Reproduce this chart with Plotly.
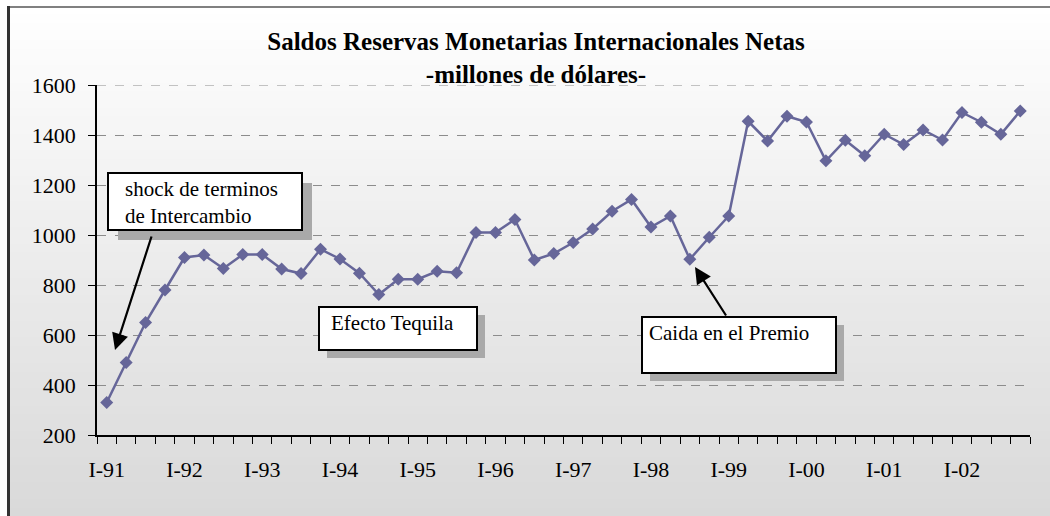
import plotly.graph_objects as go

# quarterly balances, I-91 .. IV-02
quarters = list(range(48))
reserves = [
    330, 490, 650, 780, 910, 920, 866, 922, 922, 864, 846, 943,
    904, 847, 762, 823, 823, 855, 849, 1010, 1010, 1062, 900, 926,
    970, 1024, 1095, 1142, 1032, 1076, 903, 991, 1076, 1455, 1376, 1475,
    1452, 1297, 1379, 1317, 1403, 1362, 1420, 1380, 1490, 1451, 1403, 1496,
]
year_labels = ["I-91", "I-92", "I-93", "I-94", "I-95", "I-96",
               "I-97", "I-98", "I-99", "I-00", "I-01", "I-02"]
year_pos = [4 * i for i in range(len(year_labels))]

W, H = 1050, 516
L, R, T, B = 97, 1030, 85, 435
SERIF = "Liberation Serif, Times New Roman, serif"


def px(x):
    return (x - L) / (R - L)


def py(y):
    return (B - y) / (B - T)


shapes = []
# background gradient inside the chart frame
n_strips = 60
for k in range(n_strips):
    y0 = 6 + k * (H - 6) / n_strips
    y1 = 6 + (k + 1) * (H - 6) / n_strips + 1
    v = int(round(255 - ((y0 + y1) / 2 - 6) / (H - 6) * 38))
    shapes.append(dict(type="rect", xref="paper", yref="paper", layer="below",
                       x0=px(8), x1=px(W + 2), y0=py(y1), y1=py(y0),
                       fillcolor=f"rgb({v},{v},{v})", line_width=0))
# frame
shapes.append(dict(type="line", xref="paper", yref="paper", x0=px(8), x1=px(W + 2),
                   y0=py(7), y1=py(7), line=dict(color="#808080", width=2)))
shapes.append(dict(type="line", xref="paper", yref="paper", x0=px(8.5), x1=px(8.5),
                   y0=py(6), y1=py(H + 2), line=dict(color="#333333", width=3)))
# top gridline at the range edge
shapes.append(dict(type="line", xref="paper", yref="y", x0=0, x1=1, y0=1600, y1=1600,
                   layer="below", line=dict(color="#8c8c8c", width=1, dash="dash")))

# annotation boxes: (x0, y0, x1, y1, shadow offset)
boxes = [(108, 173, 302, 230, 10), (319, 307, 477, 350, 8), (642, 317, 836, 373, 8)]
for x0, y0, x1, y1, off in boxes:
    shapes.append(dict(type="rect", xref="paper", yref="paper",
                       x0=px(x0 + off), x1=px(x1 + off), y0=py(y1 + off), y1=py(y0 + off),
                       fillcolor="#a9a9a9", line_width=0))
    shapes.append(dict(type="rect", xref="paper", yref="paper",
                       x0=px(x0), x1=px(x1), y0=py(y1), y1=py(y0),
                       fillcolor="white", line=dict(color="black", width=2)))

fig = go.Figure()
fig.add_trace(go.Scatter(
    x=quarters, y=reserves, mode="lines+markers",
    line=dict(color="#666699", width=2.5),
    marker=dict(symbol="diamond", size=10, color="#666699"),
    showlegend=False, hoverinfo="y",
))

box_font = dict(family=SERIF, size=21, color="black")
annotations = [
    dict(xref="paper", yref="paper", x=px(123), y=py(175), xanchor="left", yanchor="top",
         text="shock de terminos<br>de Intercambio", showarrow=False, align="left",
         font=box_font),
    dict(xref="paper", yref="paper", x=px(329), y=py(323), xanchor="left", yanchor="middle",
         text="Efecto Tequila", showarrow=False, font=box_font),
    dict(xref="paper", yref="paper", x=px(647), y=py(333), xanchor="left", yanchor="middle",
         text="Caida en el Premio", showarrow=False, font=box_font),
    # arrows
    dict(xref="paper", yref="paper", x=px(115), y=py(350), ax=37, ay=-115, text="",
         showarrow=True, arrowhead=2, arrowsize=1.5, arrowwidth=2.2, arrowcolor="black",
         standoff=0, startstandoff=0),
    dict(xref="paper", yref="paper", x=px(695), y=py(267), ax=32, ay=50, text="",
         showarrow=True, arrowhead=2, arrowsize=1.5, arrowwidth=2.2, arrowcolor="black",
         standoff=0, startstandoff=0),
]

fig.update_layout(
    width=W, height=H,
    margin=dict(l=L, r=W - R, t=T, b=H - B),
    paper_bgcolor="white", plot_bgcolor="rgba(0,0,0,0)",
    font=dict(family=SERIF, size=22, color="black"),
    title=dict(text="<b>Saldos Reservas Monetarias Internacionales Netas<br>-millones de dólares-</b>",
               x=px(536), xref="paper", xanchor="center",
               y=1 - 50 / H, yref="container", yanchor="middle",
               font=dict(family=SERIF, size=25, color="black")),
    shapes=shapes, annotations=annotations,
    xaxis=dict(range=[-0.5, 47.5], tickmode="array", tickvals=year_pos, ticktext=year_labels,
               ticks="", showgrid=False, zeroline=False, showline=True,
               linecolor="black", linewidth=1.5, ticklabelstandoff=14,
               minor=dict(tickmode="array", tickvals=[i - 0.5 for i in range(49)],
                          ticks="outside", ticklen=7, tickcolor="black", tickwidth=1,
                          showgrid=False)),
    yaxis=dict(range=[200, 1600], tickmode="linear", tick0=200, dtick=200,
               ticks="outside", ticklen=7, tickcolor="black", tickwidth=1,
               showgrid=True, gridcolor="#8c8c8c", griddash="dash", gridwidth=1,
               zeroline=False, showline=True, linecolor="black", linewidth=1.5,
               ticklabelstandoff=8),
)

fig.write_html("out.html", config={"displayModeBar": False},
               post_script="document.body.style.margin='0';document.body.style.overflow='hidden';")
